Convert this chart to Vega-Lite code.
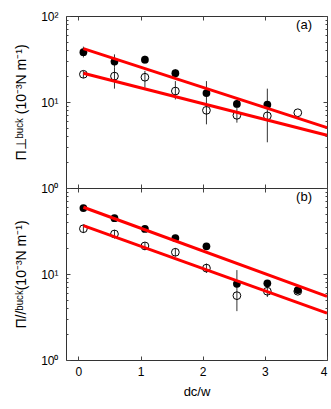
{
  "$schema": "https://vega.github.io/schema/vega-lite/v6.json",
  "padding": {"left": 14, "top": 9, "right": 0, "bottom": 0},
  "background": "white",
  "config": {
    "font": "Liberation Sans",
    "view": {"stroke": "#333333", "strokeWidth": 1},
    "axis": {"domain": false, "grid": false, "tickColor": "#444444", "labelColor": "black", "titleColor": "black", "labelFontSize": 12, "titleFontSize": 14, "titleFontWeight": "normal", "labelFont": "Liberation Sans", "titleFont": "Liberation Sans"}
  },
  "datasets": {
    "pts": [
      {"panel": "a", "type": "filled", "x": 0.08, "y": 38, "lo": 33, "hi": 44},
      {"panel": "a", "type": "filled", "x": 0.58, "y": 29.5, "lo": 25, "hi": 35.8},
      {"panel": "a", "type": "filled", "x": 1.07, "y": 31, "lo": 28, "hi": 34.5},
      {"panel": "a", "type": "filled", "x": 1.56, "y": 21.6, "lo": 19.5, "hi": 24},
      {"panel": "a", "type": "filled", "x": 2.06, "y": 12.7, "lo": 10, "hi": 17.5},
      {"panel": "a", "type": "filled", "x": 2.55, "y": 9.5, "lo": 8.5, "hi": 10.5},
      {"panel": "a", "type": "filled", "x": 3.04, "y": 9.3, "lo": 8.5, "hi": 14.3},
      {"panel": "a", "type": "open", "x": 0.08, "y": 21, "lo": 19, "hi": 23},
      {"panel": "a", "type": "open", "x": 0.58, "y": 20, "lo": 14.3, "hi": 25},
      {"panel": "a", "type": "open", "x": 1.07, "y": 19.4, "lo": 14.7, "hi": 23},
      {"panel": "a", "type": "open", "x": 1.56, "y": 13.4, "lo": 10.7, "hi": 17.5},
      {"panel": "a", "type": "open", "x": 2.06, "y": 8, "lo": 5.5, "hi": 10},
      {"panel": "a", "type": "open", "x": 2.55, "y": 7, "lo": 5.75, "hi": 8.5},
      {"panel": "a", "type": "open", "x": 3.04, "y": 6.9, "lo": 3.4, "hi": 8.5},
      {"panel": "a", "type": "open", "x": 3.53, "y": 7.5, "lo": null, "hi": null},
      {"panel": "b", "type": "filled", "x": 0.08, "y": 58.5, "lo": 54, "hi": 63},
      {"panel": "b", "type": "filled", "x": 0.58, "y": 44.5, "lo": 41, "hi": 48},
      {"panel": "b", "type": "filled", "x": 1.07, "y": 33.4, "lo": 31, "hi": 36},
      {"panel": "b", "type": "filled", "x": 1.56, "y": 26.2, "lo": 24, "hi": 28.5},
      {"panel": "b", "type": "filled", "x": 2.06, "y": 21, "lo": 19.5, "hi": 22.5},
      {"panel": "b", "type": "filled", "x": 2.55, "y": 7.7, "lo": 6.5, "hi": 11.1},
      {"panel": "b", "type": "filled", "x": 3.04, "y": 7.8, "lo": 7.2, "hi": 8.4},
      {"panel": "b", "type": "filled", "x": 3.53, "y": 6.5, "lo": 6.1, "hi": 6.9},
      {"panel": "b", "type": "open", "x": 0.08, "y": 33.6, "lo": 30, "hi": 37.5},
      {"panel": "b", "type": "open", "x": 0.58, "y": 29.2, "lo": 26, "hi": 32.5},
      {"panel": "b", "type": "open", "x": 1.07, "y": 21.2, "lo": 19, "hi": 23.5},
      {"panel": "b", "type": "open", "x": 1.56, "y": 17.9, "lo": 16, "hi": 20},
      {"panel": "b", "type": "open", "x": 2.06, "y": 11.7, "lo": 10.3, "hi": 13.2},
      {"panel": "b", "type": "open", "x": 2.55, "y": 5.6, "lo": 3.7, "hi": 6.5},
      {"panel": "b", "type": "open", "x": 3.04, "y": 6.3, "lo": 5.4, "hi": 7.2},
      {"panel": "b", "type": "open", "x": 3.53, "y": 6.3, "lo": 5.9, "hi": 6.7}
    ],
    "fits": [
      {"panel": "a", "line": "upper", "x": 0.08, "y": 41.8},
      {"panel": "a", "line": "upper", "x": 4, "y": 5.04},
      {"panel": "a", "line": "lower", "x": 0.08, "y": 21.6},
      {"panel": "a", "line": "lower", "x": 4, "y": 4.1},
      {"panel": "b", "line": "upper", "x": 0.08, "y": 59.7},
      {"panel": "b", "line": "upper", "x": 4, "y": 5.5},
      {"panel": "b", "line": "lower", "x": 0.08, "y": 36.5},
      {"panel": "b", "line": "lower", "x": 4, "y": 3.5}
    ]
  },
  "spacing": 0,
  "bounds": "flush",
  "vconcat": [
    {
      "width": 261,
      "height": 172,
      "resolve": {"axis": {"x": "independent", "y": "independent"}},
      "layer": [
        {
          "data": {"name": "pts"},
          "transform": [{"filter": "datum.panel == 'a' && datum.lo != null"}],
          "mark": {"type": "rule", "color": "#333333", "strokeWidth": 1},
          "encoding": {
            "x": {"field": "x", "type": "quantitative", "scale": {"domain": [-0.2, 4], "nice": false, "zero": false},
                  "axis": {"orient": "top", "values": [0, 1, 2, 3, 4], "labels": false, "tickSize": -4, "title": null}},
            "y": {"field": "lo", "type": "quantitative", "scale": {"type": "log", "domain": [1, 100], "nice": false},
                  "axis": {"orient": "left", "values": [2, 3, 4, 5, 6, 7, 8, 9, 20, 30, 40, 50, 60, 70, 80, 90], "labels": false, "tickSize": -2, "title": null}},
            "y2": {"field": "hi"}
          }
        },
        {
          "data": {"name": "pts"},
          "transform": [{"filter": "datum.panel == 'a' && datum.type == 'filled'"}],
          "mark": {"type": "point", "shape": "circle", "filled": true, "color": "black", "size": 60, "opacity": 1},
          "encoding": {
            "x": {"field": "x", "type": "quantitative", "axis": null},
            "y": {"field": "y", "type": "quantitative",
                  "axis": {"orient": "right", "values": [1, 10, 100], "labels": false, "tickSize": -4, "title": null}}
          }
        },
        {
          "data": {"name": "pts"},
          "transform": [{"filter": "datum.panel == 'a' && datum.type == 'open'"}],
          "mark": {"type": "point", "shape": "circle", "filled": false, "color": "black", "size": 60, "strokeWidth": 1, "opacity": 1},
          "encoding": {
            "x": {"field": "x", "type": "quantitative", "axis": null},
            "y": {"field": "y", "type": "quantitative",
                  "axis": {"orient": "right", "values": [2, 3, 4, 5, 6, 7, 8, 9, 20, 30, 40, 50, 60, 70, 80, 90], "labels": false, "tickSize": -2, "title": null}}
          }
        },
        {
          "data": {"name": "fits"},
          "transform": [{"filter": "datum.panel == 'a'"}],
          "mark": {"type": "line", "color": "#ff0000", "strokeWidth": 3},
          "encoding": {
            "x": {"field": "x", "type": "quantitative",
                  "axis": {"orient": "bottom", "values": [0, 1, 2, 3, 4], "labels": false, "tickSize": -4, "title": null}},
            "y": {"field": "y", "type": "quantitative",
                  "axis": {"orient": "left", "values": [1, 10, 100], "tickSize": -4, "labelPadding": 12,
                           "labelExpr": "datum.value == 1 ? '10⁰' : datum.value == 10 ? '10¹' : '10²'",
                           "title": "Π⊥ᵇᵘᶜᵏ (10⁻³N m⁻¹)", "titlePadding": 12}},
            "detail": {"field": "line"}
          }
        },
        {
          "data": {"values": [{"label": "(a)"}]},
          "mark": {"type": "text", "fontSize": 13, "color": "black", "baseline": "middle", "align": "center"},
          "encoding": {
            "x": {"datum": 3.63, "type": "quantitative", "axis": null},
            "y": {"datum": 79, "type": "quantitative", "axis": null},
            "text": {"field": "label"}
          }
        }
      ]
    },
    {
      "width": 261,
      "height": 172,
      "resolve": {"axis": {"x": "independent", "y": "independent"}},
      "layer": [
        {
          "data": {"name": "pts"},
          "transform": [{"filter": "datum.panel == 'b' && datum.lo != null"}],
          "mark": {"type": "rule", "color": "#333333", "strokeWidth": 1},
          "encoding": {
            "x": {"field": "x", "type": "quantitative", "scale": {"domain": [-0.2, 4], "nice": false, "zero": false},
                  "axis": {"orient": "top", "values": [0, 1, 2, 3, 4], "labels": false, "tickSize": -4, "title": null}},
            "y": {"field": "lo", "type": "quantitative", "scale": {"type": "log", "domain": [1, 100], "nice": false},
                  "axis": {"orient": "left", "values": [2, 3, 4, 5, 6, 7, 8, 9, 20, 30, 40, 50, 60, 70, 80, 90], "labels": false, "tickSize": -2, "title": null}},
            "y2": {"field": "hi"}
          }
        },
        {
          "data": {"name": "pts"},
          "transform": [{"filter": "datum.panel == 'b' && datum.type == 'filled'"}],
          "mark": {"type": "point", "shape": "circle", "filled": true, "color": "black", "size": 60, "opacity": 1},
          "encoding": {
            "x": {"field": "x", "type": "quantitative", "axis": null},
            "y": {"field": "y", "type": "quantitative",
                  "axis": {"orient": "right", "values": [1, 10, 100], "labels": false, "tickSize": -4, "title": null}}
          }
        },
        {
          "data": {"name": "pts"},
          "transform": [{"filter": "datum.panel == 'b' && datum.type == 'open'"}],
          "mark": {"type": "point", "shape": "circle", "filled": false, "color": "black", "size": 60, "strokeWidth": 1, "opacity": 1},
          "encoding": {
            "x": {"field": "x", "type": "quantitative", "axis": null},
            "y": {"field": "y", "type": "quantitative",
                  "axis": {"orient": "right", "values": [2, 3, 4, 5, 6, 7, 8, 9, 20, 30, 40, 50, 60, 70, 80, 90], "labels": false, "tickSize": -2, "title": null}}
          }
        },
        {
          "data": {"name": "fits"},
          "transform": [{"filter": "datum.panel == 'b'"}],
          "mark": {"type": "line", "color": "#ff0000", "strokeWidth": 3},
          "encoding": {
            "x": {"field": "x", "type": "quantitative",
                  "axis": {"orient": "bottom", "values": [0, 1, 2, 3, 4], "tickSize": -4, "labelPadding": 10, "title": "dc/w", "titlePadding": 8, "titleFontSize": 13}},
            "y": {"field": "y", "type": "quantitative",
                  "axis": {"orient": "left", "values": [1, 10, 100], "tickSize": -4, "labelPadding": 12,
                           "labelExpr": "datum.value == 1 ? '10⁰' : datum.value == 10 ? '10¹' : ''",
                           "title": "Π//ᵇᵘᶜᵏ(10⁻³N m⁻¹)", "titlePadding": 12}},
            "detail": {"field": "line"}
          }
        },
        {
          "data": {"values": [{"label": "(b)"}]},
          "mark": {"type": "text", "fontSize": 13, "color": "black", "baseline": "middle", "align": "center"},
          "encoding": {
            "x": {"datum": 3.63, "type": "quantitative", "axis": null},
            "y": {"datum": 78, "type": "quantitative", "axis": null},
            "text": {"field": "label"}
          }
        }
      ]
    }
  ]
}
